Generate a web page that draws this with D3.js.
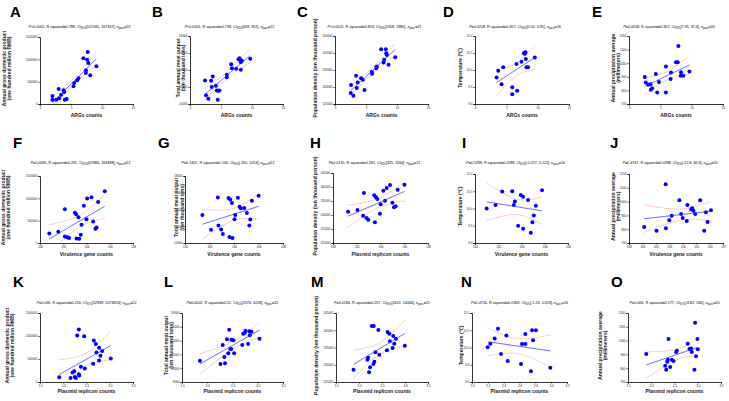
<!DOCTYPE html>
<html><head><meta charset="utf-8">
<script src="https://cdn.jsdelivr.net/npm/d3@7"></script>
<style>
body{margin:0;background:#fff}
svg{display:block}
text{font-family:Arial,"Liberation Sans",Helvetica,sans-serif}
</style>
</head><body>
<svg id="c" width="729" height="401"></svg>
<script>
// ---------------- DATA ----------------
const panelIds = ["A","B","C","D","E","F","G","H","I","J","K","L","M","N","O"];

const xTitles = ["ARGs counts","ARGs counts","ARGs counts","ARGs counts","ARGs counts",
  "Virulence gene counts","Virulence gene counts","Plasmid replicon counts","Virulence gene counts","Virulence gene counts",
  "Plasmid replicon counts","Plasmid replicon counts","Plasmid replicon counts","Plasmid replicon counts","Plasmid replicon counts"];

const yGDP = ["Annual gross domestic product","(one hundred million RMB)"];
const yMeat = ["Total annual meat output","(ten thousand tons)"];
const yPop = ["Population density (ten thousand person)"];
const yTemp = ["Temperature (\u2103)"];
const yPrec = ["Annual precipitation average","(millimeters)"];
const yTitles = [yGDP,yMeat,yPop,yTemp,yPrec, yGDP,yMeat,yPop,yTemp,yPrec, yGDP,yMeat,yPop,yTemp,yPrec];

const pValues = ["<0.0001","<0.0001","<0.0001","=0.0258","=0.0058","=0.0095","=0.1452","=0.0135","=0.5299","=0.4747","=0.036","=0.0002","=0.0184","=0.4756","=0.064"];
const r2Values = ["0.788","0.739","0.818","0.307","0.352","0.291","0.106","0.281","0.0289","0.0288","0.216","0.52","0.257","0.0369","0.177"];
const ciValues = ["[102181, 167367]","[459, 912]","[1318, 2980]","[0.54, 0.95]","[7.35, 37.4]","[41984, 263498]","[-160, 1054]","[325, 3264]","[-0.227, 0.122]","[-22.8, 46.6]","[52839, 1073654]","[2374, 6228]","[1653, 14446]","[-1.26, 0.619]","[-8.82, 266]"];
const nPairs = [22,22,21,16,20,22,22,21,16,20,22,22,21,16,20];

// axis domains / ticks
const ticksArgs = [0,5,10,15];
const ticksVir = [100,102,104,106,108];
const ticksVirJ = [100,101,102,103,104,105,106,107];
const ticksPlas = [1.5,2.0,2.5,3.0,3.5];
const ticksPlasN = [2.0,2.2,2.4,2.6,2.8,3.0,3.2];
const ticksGDP = [0,500000,1000000,1500000];
const ticksMeat = [10000,12000,14000,16000,18000];
const ticksMeatL = [8000,10000,12000,14000,16000,18000];
const ticksPop = [125000,130000,135000,140000,145000];
const ticksPopH = [120000,125000,130000,135000,140000,145000];
const ticksTemp = [9.0,9.5,10.0,10.5,11.0];
const ticksPrec = [700,800,900,1000,1100,1200];

const xTickSets = [ticksArgs,ticksArgs,ticksArgs,ticksArgs,ticksArgs, ticksVir,ticksVir,ticksVir,ticksVir,ticksVirJ, ticksPlas,ticksPlas,ticksPlas,ticksPlasN,ticksPlas];
const yTickSets = [ticksGDP,ticksMeat,ticksPop,ticksTemp,ticksPrec, ticksGDP,ticksMeat,ticksPopH,ticksTemp,ticksPrec, ticksGDP,ticksMeatL,ticksPop,ticksTemp,ticksPrec];

// scatter points [x, y]
const dataA = [[2.0,179000],[2.0,97000],[2.6,97000],[3.0,336000],[3.1,127000],[3.4,209000],[3.8,306000],[3.9,269000],[4.0,97000],[4.3,112000],[5.4,396000],[5.5,470000],[6.0,530000],[6.2,575000],[7.0,1022000],[7.4,694000],[7.4,754000],[7.6,993000],[7.7,1164000],[7.8,918000],[8.1,642000],[9.1,843000]];
const dataB = [[2.43,12770],[2.59,11020],[2.97,10630],[3.40,12730],[3.51,11990],[3.67,13240],[4.16,12150],[4.32,11600],[4.48,10510],[4.59,11560],[4.75,11600],[5.94,13440],[5.94,13160],[6.64,14690],[6.75,14220],[7.45,14140],[7.83,15270],[7.99,15390],[8.20,14920],[8.36,15080],[8.20,14020],[9.71,15310]];
const dataC = [[2.59,130560],[2.54,128220],[2.97,127440],[3.40,133290],[3.51,129680],[3.67,131340],[4.21,132610],[4.48,132120],[4.75,129100],[5.94,134460],[5.99,133880],[6.64,135540],[6.75,136020],[7.45,141100],[7.83,137200],[7.94,137980],[8.20,141100],[8.26,139930],[8.36,139440],[8.63,136510],[9.71,138760]];
const dataD = [[3.44,9.78],[3.71,9.98],[4.24,9.58],[4.50,10.08],[5.94,9.49],[5.94,9.29],[6.62,10.18],[6.73,9.39],[7.42,10.24],[7.79,10.49],[8.06,10.52],[8.11,10.32],[8.21,10.08],[8.48,10.08],[9.54,10.37],[7.95,10.48]];
const dataE = [[2.52,898],[2.68,859],[3.05,842],[3.43,846],[3.48,805],[3.70,815],[4.28,920],[4.50,785],[4.77,861],[5.89,976],[5.89,785],[6.64,883],[6.70,932],[7.50,1007],[7.77,1007],[7.88,1127],[8.25,907],[8.30,934],[8.68,907],[9.64,939]];
const dataF = [[100.8,214000],[101.57,251000],[102.14,754000],[102.14,148000],[102.34,126000],[102.51,111000],[103.0,680000],[103.11,643000],[103.14,103000],[103.31,576000],[103.37,96000],[103.51,185000],[103.57,406000],[103.77,835000],[104.0,532000],[104.06,997000],[104.43,1027000],[104.57,480000],[104.77,318000],[104.86,347000],[105.0,916000],[105.57,1160000]];
const dataG = [[101.42,13350],[102.13,11580],[102.68,15440],[102.73,12090],[102.95,11620],[103.09,11060],[103.55,15360],[103.69,15200],[103.63,10710],[103.83,14770],[103.88,10590],[104.04,12840],[104.10,13350],[104.32,15400],[104.45,14340],[104.56,14140],[104.84,14180],[105.05,13590],[105.25,12090],[105.33,12800],[105.46,15040],[106.01,15640]];
const dataH = [[101.27,131190],[102.06,131790],[102.54,129760],[102.60,137860],[102.82,128930],[102.97,128330],[103.47,137020],[103.62,136310],[103.73,135710],[103.53,127380],[103.95,130480],[104.01,133810],[104.24,138690],[104.38,135120],[104.52,139640],[104.80,140710],[105.0,134410],[105.14,132740],[105.28,133100],[105.45,139050],[106.02,140830]];
const dataI = [[101.0,10.0],[101.77,10.1],[102.34,10.49],[103.2,10.5],[103.34,10.1],[103.43,10.2],[103.94,10.39],[104.14,10.34],[104.57,10.25],[103.71,9.5],[104.14,9.41],[104.8,9.3],[104.94,9.6],[105.06,9.8],[105.23,10.08],[105.77,10.53]];
const dataJ = [[101.13,816],[102.05,789],[102.73,1125],[102.75,806],[103.0,864],[103.18,898],[103.75,1009],[103.88,910],[104.0,881],[104.3,859],[104.35,975],[104.63,942],[104.8,934],[104.93,910],[105.3,1009],[105.6,789],[105.73,922],[105.85,852],[106.1,937],[104.7,951]];
const dataK = [[1.914,102000],[2.157,88000],[2.2,205000],[2.236,234000],[2.25,110000],[2.271,88000],[2.336,168000],[2.343,139000],[2.379,329000],[2.464,293000],[2.3,1010000],[2.336,1141000],[2.45,995000],[2.643,395000],[2.657,900000],[2.7,827000],[2.771,746000],[2.771,468000],[2.8,571000],[2.836,673000],[3.021,512000],[2.714,644000]];
const dataL = [[1.855,11090],[2.261,10610],[2.306,13360],[2.339,11620],[2.352,10700],[2.39,14180],[2.416,12150],[2.435,15590],[2.455,12780],[2.474,12780],[2.519,14040],[2.532,12150],[2.694,13360],[2.713,15000],[2.745,15150],[2.758,15440],[2.81,13510],[2.835,15340],[2.842,14760],[2.874,15300],[3.035,14280],[2.48,14140]];
const dataM = [[1.881,128580],[2.183,131470],[2.198,132050],[2.219,127800],[2.241,129250],[2.277,141230],[2.32,141230],[2.356,133600],[2.313,130220],[2.335,130890],[2.421,140070],[2.442,132920],[2.608,134180],[2.622,139490],[2.658,139010],[2.673,136790],[2.73,134860],[2.745,138330],[2.766,136110],[2.802,137560],[2.996,135530]];
const dataN = [[2.198,10.01],[2.232,10.11],[2.286,10.26],[2.328,10.54],[2.366,9.81],[2.434,10.35],[2.451,9.61],[2.619,9.52],[2.632,10.1],[2.674,10.1],[2.674,10.39],[2.745,9.31],[2.758,10.5],[2.771,10.21],[2.808,10.5],[2.989,9.41]];
const dataO = [[1.893,903],[2.3,818],[2.321,789],[2.343,847],[2.357,862],[2.371,1012],[2.407,809],[2.443,862],[2.479,852],[2.536,917],[2.55,927],[2.786,978],[2.821,939],[2.857,942],[2.871,917],[2.929,789],[2.943,1130],[2.964,886],[2.993,1012],[3.0,937]];
const allData = [dataA,dataB,dataC,dataD,dataE,dataF,dataG,dataH,dataI,dataJ,dataK,dataL,dataM,dataN,dataO];

// ---------------- LAYOUT (positions, not data) ----------------
const boxes = [
  [40,133,37,104],[190,283,36,104],[335,428,36,104],[475,569,36,104],[629,723,36,104],
  [40,133,176,243],[185,283,176,243],[333,428,173,243],[475,568,174,243],[629,723,174,243],
  [40,133,313,382],[182,283,313,382],[336,428,313,382],[472,567,313,382],[628,721,313,382]];
const letterX = [10,152,297,443,592, 13,158,310,462,610, 13,164,311,461,611];
const letterBase = [17,148,287];
const titleY = [28,164,304];
const titleShift = [-7,-6,0];
const xTitleY = [117,256,393];
const yLabelX = [6.5,180.5,315,460,615.5, 5.5,179,315,460,615.5, 9.5,168.5,316,461,602.5];

// t(0.975) for df
const tTable = {14:2.145,15:2.131,16:2.120,17:2.110,18:2.101,19:2.093,20:2.086,21:2.080};

const svg = d3.select("#c");
const defs = svg.append("defs");

function fmtTick(v, ticks){
  const step = ticks[1]-ticks[0];
  if (step < 1) return d3.format(".1f")(v);
  return d3.format("d")(v);
}

panelIds.forEach((id,i)=>{
  const [x0,x1,y0,y1] = boxes[i];
  const row = Math.floor(i/5);
  const xt = xTickSets[i], yt = yTickSets[i];
  const xs = d3.scaleLinear().domain([xt[0],xt[xt.length-1]]).range([x0,x1]);
  const ys = d3.scaleLinear().domain([yt[0],yt[yt.length-1]]).range([y1,y0]);
  const g = svg.append("g");

  // letter
  g.append("text").attr("x",letterX[i]).attr("y",letterBase[row])
    .attr("font-size",15).attr("font-weight","bold").attr("fill","#000").text(id);

  // stats title
  const tt = g.append("text").attr("x",(x0+x1)/2+titleShift[row]).attr("y",titleY[row])
    .attr("text-anchor","middle").attr("font-size",3.7).attr("fill","#000");
  tt.append("tspan").attr("font-style","italic").text("P");
  tt.append("tspan").text(pValues[i]+", R squared="+r2Values[i]+", CI");
  tt.append("tspan").attr("font-size",2.6).attr("dy",0.8).text("95%");
  tt.append("tspan").attr("dy",-0.8).text(ciValues[i]+", n");
  tt.append("tspan").attr("font-size",2.6).attr("dy",0.8).text("pairs");
  tt.append("tspan").attr("dy",-0.8).text("="+nPairs[i]);

  // axes
  const xAxis = d3.axisBottom(xs).tickValues(xt).tickSize(1.6).tickPadding(1).tickFormat(v=>fmtTick(v,xt));
  const yAxis = d3.axisLeft(ys).tickValues(yt).tickSize(1.6).tickPadding(1).tickFormat(v=>fmtTick(v,yt));
  const gx = g.append("g").attr("transform",`translate(0,${y1})`).call(xAxis);
  const gy = g.append("g").attr("transform",`translate(${x0},0)`).call(yAxis);
  [gx,gy].forEach(a=>{
    a.select(".domain").attr("stroke","#000").attr("stroke-width",0.8);
    a.selectAll(".tick line").attr("stroke","#000").attr("stroke-width",0.6);
    a.selectAll(".tick text").attr("font-size",3).attr("fill","#222").attr("font-family","Arial,'Liberation Sans',sans-serif");
  });

  // x title
  g.append("text").attr("x",(x0+x1)/2).attr("y",xTitleY[row]).attr("text-anchor","middle")
    .attr("font-size",5).attr("font-weight","bold").attr("fill","#222").text(xTitles[i]);

  // y title
  const lines = yTitles[i];
  const cy = (y0+y1)/2 - 2;
  lines.forEach((ln,k)=>{
    const off = (k - (lines.length-1)/2)*5.2;
    const cx = yLabelX[i] + off;
    g.append("text").attr("transform",`translate(${cx},${cy}) rotate(-90)`)
      .attr("text-anchor","middle").attr("dominant-baseline","central")
      .attr("font-size",5).attr("font-weight","bold").attr("fill","#222").text(ln);
  });

  // regression
  const pts = allData[i];
  const n = pts.length;
  const mx = d3.mean(pts,d=>d[0]), my = d3.mean(pts,d=>d[1]);
  let sxx=0,sxy=0;
  pts.forEach(([x,y])=>{sxx+=(x-mx)*(x-mx); sxy+=(x-mx)*(y-my);});
  const b = sxy/sxx, a = my-b*mx;
  let sse=0; pts.forEach(([x,y])=>{const r=y-a-b*x; sse+=r*r;});
  const s = Math.sqrt(sse/(n-2));
  const t = tTable[n-2] || 2.1;
  const [xmin,xmax] = d3.extent(pts,d=>d[0]);
  const xsamp = d3.range(0,41).map(k=>xmin+(xmax-xmin)*k/40);
  const band = xsamp.map(x=>{
    const yh = a+b*x, h = t*s*Math.sqrt(1/n + (x-mx)*(x-mx)/sxx);
    return {x, yh, lo:yh-h, hi:yh+h};
  });

  const clipId = "clip"+id;
  defs.append("clipPath").attr("id",clipId).append("rect")
    .attr("x",x0).attr("y",y0-5).attr("width",x1-x0+5).attr("height",y1-y0+5);
  const pg = g.append("g").attr("clip-path",`url(#${clipId})`);

  const lineHi = d3.line().x(d=>xs(d.x)).y(d=>ys(d.hi));
  const lineLo = d3.line().x(d=>xs(d.x)).y(d=>ys(d.lo));
  pg.append("path").attr("d",lineHi(band)).attr("fill","none").attr("stroke","#f07070").attr("stroke-width",0.6).attr("stroke-dasharray","1.2,0.8");
  pg.append("path").attr("d",lineLo(band)).attr("fill","none").attr("stroke","#f07070").attr("stroke-width",0.6).attr("stroke-dasharray","1.2,0.8");

  pg.selectAll("circle").data(pts).join("circle")
    .attr("cx",d=>xs(d[0])).attr("cy",d=>ys(d[1])).attr("r",2).attr("fill","#0000ff");

  pg.append("line").attr("x1",xs(xmin)).attr("y1",ys(a+b*xmin)).attr("x2",xs(xmax)).attr("y2",ys(a+b*xmax))
    .attr("stroke","#3030ff").attr("stroke-width",0.7);
});
</script>
</body></html>
